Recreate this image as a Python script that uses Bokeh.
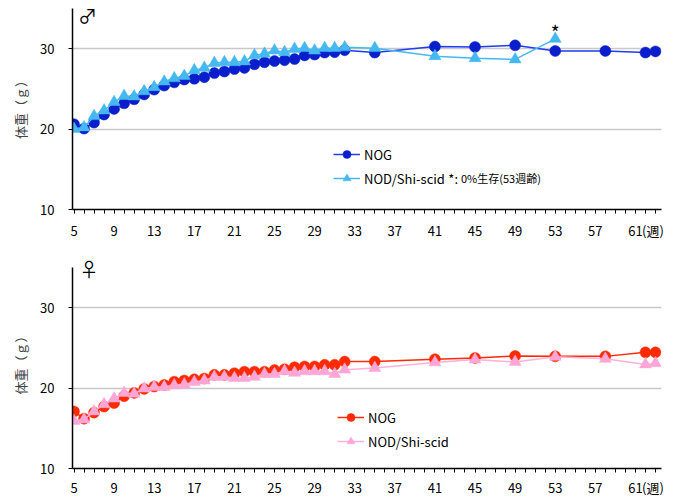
from bokeh.plotting import figure
from bokeh.models import FixedTicker, Label, Legend, LegendItem, Range1d
from bokeh.layouts import column
from bokeh.embed import file_html
from bokeh.resources import INLINE

# ---------------- data ----------------
weeks_early = list(range(5, 33))
weeks_nog = weeks_early + [35, 41, 45, 49, 53, 58, 62, 63]
weeks_nod_male = weeks_early + [35, 41, 45, 49, 53]
weeks_nod_female = weeks_early + [35, 41, 45, 49, 53, 58, 62, 63]

male_nog = [20.6, 20.05, 20.8, 21.8, 22.5, 23.2, 23.7, 24.3, 24.9, 25.4,
            25.8, 26.15, 26.25, 26.45, 26.95, 27.15, 27.45, 27.6, 28.05, 28.3,
            28.45, 28.55, 28.7, 29.15, 29.25, 29.5, 29.55, 29.8,
            29.5, 30.25, 30.2, 30.4, 29.7, 29.7, 29.5, 29.65]
male_nod = [20.0, 20.2, 21.6, 22.3, 23.35, 24.1, 24.05, 24.7, 25.2, 25.9,
            26.3, 26.6, 27.3, 27.6, 28.2, 28.3, 28.3, 28.4, 29.15, 29.35,
            29.75, 29.55, 29.95, 30.05, 29.75, 30.05, 30.05, 30.15,
            30.05, 29.05, 28.8, 28.65, 31.2]
female_nog = [17.1, 16.2, 16.95, 17.7, 18.15, 19.0, 19.4, 19.9, 20.2, 20.4,
              20.8, 20.95, 21.1, 21.2, 21.65, 21.65, 21.85, 22.05, 22.05, 22.05,
              22.25, 22.35, 22.6, 22.7, 22.7, 22.9, 22.9, 23.3,
              23.3, 23.6, 23.75, 24.0, 23.95, 23.95, 24.45, 24.45]
female_nod = [15.9, 16.1, 17.1, 18.0, 18.7, 19.4, 19.3, 19.95, 20.15, 20.15,
              20.35, 20.45, 20.75, 20.95, 21.4, 21.4, 21.25, 21.25, 21.4, 21.75,
              21.75, 22.1, 21.9, 22.1, 22.1, 22.1, 21.75, 22.3,
              22.5, 23.2, 23.55, 23.25, 23.9, 23.65, 22.95, 23.1]

x_tick_labels = [str(w) for w in range(5, 62, 4)]
x_unit = "(週)"
x_unit_pos = 62.75
x_minor_ticks = list(range(5, 64))
y_ticks = [10, 20, 30]
grid_ticks = [20, 30]
series_names = ["NOG", "NOD/Shi-scid"]
y_label = "体重（ｇ）"

FONT = "Noto Sans CJK JP"


def make_fig(border_top, border_bottom, frame_h, y_end, tick_standoff):
    p = figure(frame_width=589, frame_height=frame_h,
               x_range=Range1d(4.85, 63.6), y_range=Range1d(10, y_end),
               output_backend="svg", toolbar_location=None,
               min_border_left=72, min_border_right=10,
               min_border_top=border_top, min_border_bottom=border_bottom)
    p.outline_line_color = None
    p.background_fill_color = "white"
    p.border_fill_color = "white"
    p.xgrid.visible = False
    p.ygrid.ticker = FixedTicker(ticks=grid_ticks)
    p.ygrid.grid_line_color = "#c8c8c8"
    p.ygrid.grid_line_width = 1.5

    xa = p.xaxis[0]
    major = [int(t) for t in x_tick_labels] + [x_unit_pos]
    xa.ticker = FixedTicker(ticks=major, minor_ticks=x_minor_ticks)
    overrides = {int(t): t for t in x_tick_labels}
    overrides[x_unit_pos] = x_unit
    xa.major_label_overrides = overrides
    xa.axis_line_color = "black"
    xa.axis_line_width = 1.5
    xa.major_tick_in = 0
    xa.major_tick_out = 4
    xa.major_tick_line_color = None
    xa.minor_tick_in = 0
    xa.minor_tick_out = 4
    xa.minor_tick_line_color = "black"
    xa.major_label_text_font = FONT
    xa.major_label_text_font_size = "13px"
    xa.major_label_text_color = "black"
    xa.major_label_standoff = tick_standoff

    ya = p.yaxis[0]
    ya.ticker = FixedTicker(ticks=y_ticks)
    ya.bounds = (10, 35)
    ya.axis_line_color = "black"
    ya.axis_line_width = 1.5
    ya.major_tick_in = 0
    ya.major_tick_out = 4
    ya.minor_tick_out = 0
    ya.minor_tick_in = 0
    ya.major_tick_line_color = "black"
    ya.major_label_text_font = FONT
    ya.major_label_text_font_size = "13px"
    ya.major_label_text_color = "black"
    ya.major_label_standoff = 14
    ya.axis_label = y_label
    ya.axis_label_text_font = FONT
    ya.axis_label_text_font_size = "13px"
    ya.axis_label_text_font_style = "normal"
    ya.axis_label_standoff = 7
    return p


def add_series(p, xs, ys, color_line, color_fill, marker):
    l = p.line(xs, ys, line_color=color_line, line_width=1.5)
    s = p.scatter(xs, ys, marker=marker, size=11 if marker == "circle" else 12,
                  fill_color=color_fill, line_color=color_fill, line_width=0.5)
    return [l, s]


def add_legend(p, r1, r2, loc):
    leg = Legend(items=[LegendItem(label=series_names[0], renderers=r1),
                        LegendItem(label=series_names[1], renderers=r2)],
                 location=loc, border_line_color=None,
                 background_fill_alpha=0, padding=0, margin=0, spacing=4,
                 glyph_width=27, glyph_height=20, label_height=20,
                 label_standoff=4, label_text_font=FONT,
                 label_text_font_size="13px", label_text_color="black")
    p.add_layout(leg)


# ---------------- male ----------------
p1 = make_fig(3, 41, 206, 35.6, 7)
r_m1 = add_series(p1, weeks_nog, male_nog, "#1f3cf0", "#0a1ecc", "circle")
r_m2 = add_series(p1, weeks_nod_male, male_nod, "#45b8f0", "#45b8f0", "triangle")
add_legend(p1, r_m1, r_m2, (261, 21))
p1.add_layout(Label(x=6.35, y=34.1, text="♂", text_font=FONT, text_font_size="19px",
                    text_align="center", text_baseline="middle", text_color="black"))
p1.add_layout(Label(x=53, y=32.1, text="*", text_font=FONT, text_font_size="19px",
                    text_align="center", text_baseline="middle", text_color="black"))
p1.add_layout(Label(x=42.34, y=13.86, text="*:", text_font=FONT, text_font_size="13px",
                    text_align="left", text_baseline="middle", text_color="black"))
p1.add_layout(Label(x=43.6, y=13.86, text="0%生存(53週齢)", text_font=FONT,
                    text_font_size="11px", text_align="left", text_baseline="middle",
                    text_color="black"))

# ---------------- female ----------------
p2 = make_fig(5, 29, 213, 36.5, 5)
r_f1 = add_series(p2, weeks_nog, female_nog, "#ff2a00", "#ff2a00", "circle")
r_f2 = add_series(p2, weeks_nod_female, female_nod, "#ffb0da", "#ffa6d6", "triangle")
add_legend(p2, r_f1, r_f2, (265, 17))
p2.add_layout(Label(x=6.5, y=34.9, text="♀", text_font=FONT, text_font_size="19px",
                    text_align="center", text_baseline="middle", text_color="black"))

layout = column(p1, p2, spacing=0)
open("out.html", "w").write(file_html(layout, INLINE))
